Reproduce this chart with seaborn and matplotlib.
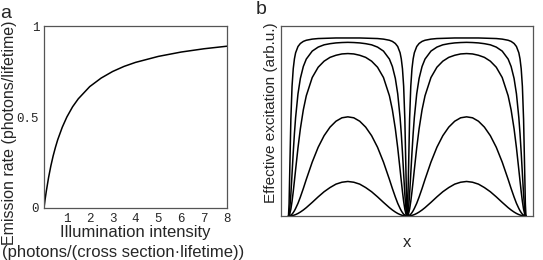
import numpy as np
import pandas as pd
import matplotlib
matplotlib.use("Agg")
import matplotlib.pyplot as plt
import seaborn as sns

# --- Panel a: emission rate vs illumination intensity ---
intensity = [0, 0.05, 0.1, 0.2, 0.3, 0.4, 0.5, 0.6, 0.8, 1.0, 1.25, 1.5,
             2, 2.5, 3, 3.5, 4, 5, 6, 7, 8]
emission = [0, 0.048, 0.091, 0.167, 0.231, 0.286, 0.333, 0.375, 0.444, 0.5,
            0.556, 0.6, 0.667, 0.714, 0.75, 0.778, 0.8, 0.833, 0.857, 0.875, 0.889]
a_xticks = [1, 2, 3, 4, 5, 6, 7, 8]
a_yticks = [0, 0.5, 1]
a_yticklabels = ["0", "0.5", "1"]

# --- Panel b: effective excitation, half of one period (0 -> centre) ---
half_x = [0, 0.005, 0.01, 0.02, 0.03, 0.04, 0.05, 0.06, 0.08, 0.1, 0.125,
          0.15, 0.2, 0.25, 0.3, 0.35, 0.4, 0.45, 0.5]
exc_1 = [0, 0.065, 0.215, 0.509, 0.683, 0.775, 0.827, 0.859, 0.892, 0.908,
         0.919, 0.925, 0.931, 0.934, 0.935, 0.936, 0.937, 0.937, 0.937]
exc_2 = [0, 0.008, 0.031, 0.114, 0.223, 0.333, 0.434, 0.518, 0.643, 0.724,
         0.787, 0.826, 0.868, 0.889, 0.901, 0.907, 0.911, 0.913, 0.914]
exc_3 = [0, 0.002, 0.009, 0.036, 0.077, 0.128, 0.185, 0.244, 0.359, 0.459,
         0.559, 0.633, 0.729, 0.783, 0.815, 0.835, 0.846, 0.853, 0.855]
exc_4 = [0, 0.0003, 0.001, 0.005, 0.010, 0.018, 0.028, 0.040, 0.067, 0.100,
         0.145, 0.193, 0.284, 0.362, 0.423, 0.468, 0.499, 0.517, 0.522]
exc_5 = [0, 0.0001, 0.0002, 0.0009, 0.002, 0.0035, 0.0055, 0.0078, 0.0137,
         0.0211, 0.0319, 0.0443, 0.072, 0.101, 0.128, 0.150, 0.168, 0.178, 0.182]
curves_b = [exc_1, exc_2, exc_3, exc_4, exc_5]


def two_periods(xs, ys):
    # one hump = rising half + mirrored falling half, then repeat it once
    hx = list(xs) + [1 - v for v in reversed(xs[:-1])]
    hy = list(ys) + list(reversed(ys[:-1]))
    return hx + [1 + v for v in hx[1:]], hy + hy[1:]


sns.set_theme(style="white")
plt.rcParams["font.family"] = ["Liberation Sans", "DejaVu Sans"]

fig = plt.figure(figsize=(5.43, 2.60), dpi=100)
ax_a = fig.add_axes([0.081, 0.200, 0.337, 0.700])
ax_b = fig.add_axes([0.5175, 0.169, 0.464, 0.731])

spine_col = "#555555"
mono = "Liberation Mono"

# panel a
sns.lineplot(x=intensity, y=emission, ax=ax_a, color="black", lw=1.1,
             estimator=None)
ax_a.set_xlim(0, 8)
ax_a.set_ylim(0, 1)
ax_a.set_xticks(a_xticks)
ax_a.set_xticklabels([str(t) for t in a_xticks], family=mono, fontsize=9)
ax_a.set_yticks(a_yticks)
ax_a.set_yticklabels(a_yticklabels, family=mono, fontsize=9)
ax_a.tick_params(axis="both", direction="out", length=2.5, width=0.8,
                 color=spine_col, pad=1)
ax_a.set_xlabel("Illumination intensity", fontsize=12)
ax_a.xaxis.set_label_coords(0.497, -0.092)
ax_a.text(0.432, -0.203, "(photons/(cross section\u00b7lifetime))",
          transform=ax_a.transAxes, fontsize=12, ha="center", va="top")
ax_a.set_ylabel("Emission rate (photons/lifetime)", fontsize=11.5)
ax_a.yaxis.set_label_coords(-0.145, 0.412)
ax_a.text(-0.24, 1.02, "a", transform=ax_a.transAxes, fontsize=14,
          va="bottom", ha="left")

# panel b
for ys in curves_b:
    xs_full, ys_full = two_periods(half_x, ys)
    df = pd.DataFrame({"x": xs_full, "y": ys_full})
    sns.lineplot(data=df, x="x", y="y", ax=ax_b, color="black", lw=1.1,
                 estimator=None, sort=False)
ax_b.set_xlim(-0.063, 2.059)
ax_b.set_ylim(0, 1)
ax_b.set_xticks([])
ax_b.set_yticks([])
ax_b.set_xlabel("")
ax_b.text(0.499, -0.137, "x", transform=ax_b.transAxes, fontsize=12,
          ha="center", va="center")
ax_b.set_ylabel("Effective excitation (arb.u.)", fontsize=11)
ax_b.yaxis.set_label_coords(-0.012, 0.545)
ax_b.text(-0.1, 1.04, "b", transform=ax_b.transAxes, fontsize=14,
          va="bottom", ha="left")

for ax in (ax_a, ax_b):
    for sp in ax.spines.values():
        sp.set_color(spine_col)
        sp.set_linewidth(0.9)

fig.savefig("out.png", dpi=100)
